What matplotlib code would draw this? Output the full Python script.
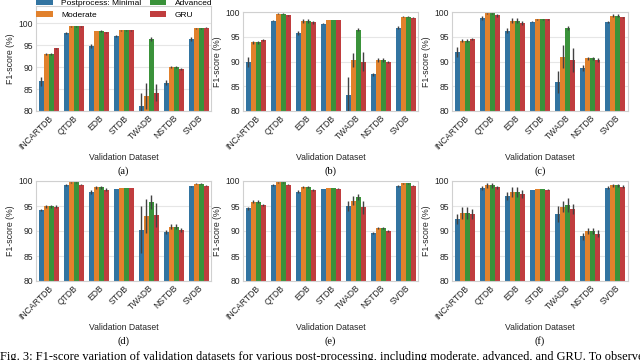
import numpy as np
import matplotlib.pyplot as plt

plt.rcParams['font.family'] = ['Liberation Sans', 'DejaVu Sans']

datasets = ['INCARTDB', 'QTDB', 'EDB', 'STDB', 'TWADB', 'NSTDB', 'SVDB']
methods = ['Postprocess: Minimal', 'Moderate', 'Advanced', 'GRU']
colors = ['#3274a1', '#e1812c', '#3a923a', '#c03d3e']

# rows: Minimal, Moderate, Advanced, GRU  /  cols: datasets
scores_a = [[86.8, 97.8, 94.8, 97.1, 81.2, 86.5, 96.5],
            [93.0, 99.4, 98.3, 98.4, 83.5, 90.1, 98.9],
            [93.0, 99.4, 98.3, 98.4, 96.5, 90.1, 98.9],
            [94.3, 99.4, 98.0, 98.4, 84.2, 89.6, 99.0]]
err_a = [[1.0, 0.2, 0.4, 0.2, 3.0, 0.6, 0.5],
         [0.2, 0.1, 0.1, 0.05, 3.0, 0.2, 0.1],
         [0.2, 0.1, 0.2, 0.05, 0.4, 0.2, 0.1],
         [0.2, 0.1, 0.1, 0.05, 2.0, 0.2, 0.1]]

scores_b = [[89.9, 98.2, 95.7, 97.6, 83.2, 87.4, 96.8],
            [93.9, 99.6, 98.1, 98.4, 90.3, 90.4, 99.0],
            [93.9, 99.6, 98.1, 98.4, 96.4, 90.4, 99.0],
            [94.4, 99.3, 97.9, 98.4, 90.0, 89.9, 98.8]]
err_b = [[1.0, 0.1, 0.4, 0.1, 3.6, 0.3, 0.3],
         [0.3, 0.1, 0.4, 0.05, 1.5, 0.4, 0.1],
         [0.3, 0.1, 0.4, 0.05, 0.3, 0.4, 0.1],
         [0.2, 0.1, 0.3, 0.05, 2.0, 0.3, 0.1]]

scores_c = [[92.0, 98.8, 96.2, 98.0, 85.8, 88.6, 97.9],
            [94.2, 99.7, 98.2, 98.5, 91.0, 90.7, 99.2],
            [94.2, 99.7, 98.2, 98.5, 96.8, 90.7, 99.2],
            [94.5, 99.3, 97.8, 98.5, 90.3, 90.3, 98.9]]
err_c = [[1.0, 0.4, 0.5, 0.1, 2.2, 0.6, 0.2],
         [0.3, 0.1, 0.5, 0.05, 2.4, 0.3, 0.3],
         [0.3, 0.1, 0.5, 0.05, 0.4, 0.3, 0.3],
         [0.2, 0.3, 0.4, 0.05, 2.5, 0.4, 0.1]]

scores_d = [[94.3, 99.2, 97.8, 98.4, 90.3, 89.8, 99.0],
            [95.0, 99.8, 98.8, 98.6, 93.0, 90.9, 99.5],
            [95.0, 99.8, 98.8, 98.6, 95.8, 90.9, 99.5],
            [94.9, 99.3, 98.3, 98.6, 93.3, 90.3, 99.1]]
err_d = [[0.2, 0.2, 0.4, 0.1, 4.7, 0.4, 0.1],
         [0.3, 0.1, 0.3, 0.05, 3.4, 0.5, 0.1],
         [0.3, 0.1, 0.3, 0.05, 1.4, 0.5, 0.1],
         [0.3, 0.1, 0.3, 0.05, 2.4, 0.4, 0.1]]

scores_e = [[94.6, 99.2, 97.9, 98.4, 95.0, 89.7, 99.0],
            [95.9, 99.8, 98.8, 98.6, 96.1, 90.6, 99.6],
            [95.9, 99.8, 98.8, 98.6, 96.8, 90.6, 99.6],
            [95.3, 99.3, 98.3, 98.5, 94.8, 90.1, 99.1]]
err_e = [[0.3, 0.2, 0.3, 0.05, 1.0, 0.2, 0.2],
         [0.3, 0.1, 0.2, 0.05, 0.9, 0.2, 0.1],
         [0.3, 0.1, 0.2, 0.05, 0.6, 0.2, 0.1],
         [0.2, 0.1, 0.2, 0.05, 1.3, 0.2, 0.1]]

scores_f = [[92.5, 98.6, 97.0, 98.2, 93.4, 89.0, 98.7],
            [93.6, 99.2, 97.8, 98.4, 94.9, 90.0, 99.2],
            [93.6, 99.2, 97.8, 98.4, 95.3, 90.1, 99.2],
            [93.4, 98.8, 97.4, 98.3, 94.5, 89.5, 98.9]]
err_f = [[1.0, 0.4, 0.8, 0.1, 1.6, 0.7, 0.3],
         [1.2, 0.5, 1.0, 0.1, 1.1, 0.6, 0.3],
         [1.2, 0.5, 1.0, 0.1, 1.4, 0.6, 0.3],
         [1.0, 0.3, 0.8, 0.1, 1.0, 0.7, 0.3]]

panels = [('(a)', scores_a, err_a), ('(b)', scores_b, err_b), ('(c)', scores_c, err_c),
          ('(d)', scores_d, err_d), ('(e)', scores_e, err_e), ('(f)', scores_f, err_f)]

W, H = 640, 360
fig = plt.figure(figsize=(6.4, 3.6), dpi=100)

# axes boxes in pixels: left, right, top, bottom
lefts = [36, 243, 452]
rights = [211, 418, 628]
row_box = [(12, 111), (181, 281)]

x = np.arange(len(datasets))
bw = 0.2
for k, (tag, sc, er) in enumerate(panels):
    r, c = divmod(k, 3)
    top, bot = row_box[r]
    if k == 0:
        top = 6
    ax = fig.add_axes([lefts[c] / W, 1 - bot / H, (rights[c] - lefts[c]) / W, (bot - top) / H])
    for i in range(4):
        ax.bar(x + (i - 1.5) * bw, sc[i], bw, color=colors[i], label=methods[i], zorder=2)
        ax.errorbar(x + (i - 1.5) * bw, sc[i], yerr=er[i], fmt='none', ecolor='#424242',
                    elinewidth=1.0, capsize=0, zorder=3)
    if k == 0:
        ax.set_ylim(80, 104)
        fig.legend(*ax.get_legend_handles_labels(), ncol=2, loc='upper left',
                   bbox_to_anchor=(36 / W, 1 + 1 / H), frameon=False,
                   fontsize=6, handlelength=2.0, handleheight=0.75, handletextpad=1.0,
                   columnspacing=1.0, labelspacing=0.45, borderaxespad=0, borderpad=0)
    else:
        ax.set_ylim(80, 100)
    ax.set_xlim(-0.5, 6.5)
    ax.set_yticks([80, 85, 90, 95, 100])
    ax.set_xticks(x)
    ax.set_xticklabels(datasets, rotation=45, ha='right', rotation_mode='anchor', fontsize=6.2)
    ax.tick_params(axis='y', labelsize=6.2, length=0, pad=2, colors='#262626')
    ax.tick_params(axis='x', length=0, pad=2, colors='#262626')
    ax.grid(axis='y', color='#e6e6e6', lw=0.8, zorder=0)
    ax.set_axisbelow(True)
    for s in ax.spines.values():
        s.set_color('#d0d0d0')
        s.set_linewidth(0.8)
    ax.set_ylabel('F1-score (%)', fontsize=6.3, color='#262626', labelpad=3)
    ax.set_xlabel('Validation Dataset', fontsize=6.2, color='#262626', labelpad=1.5)
    cx = (lefts[c] + rights[c]) / 2 / W
    cy = 1 - (171 if r == 0 else 341) / H
    fig.text(cx, cy, tag, ha='center', va='center', fontsize=7.5, family='Liberation Serif')

fig.text(0.0, 1 - 351 / H,
         'Fig. 3: F1-score variation of validation datasets for various post-processing, '
         'including moderate, advanced, and GRU. To observe',
         ha='left', va='top', fontsize=8.9, family='Liberation Serif')

fig.savefig('out.png', dpi=100)
